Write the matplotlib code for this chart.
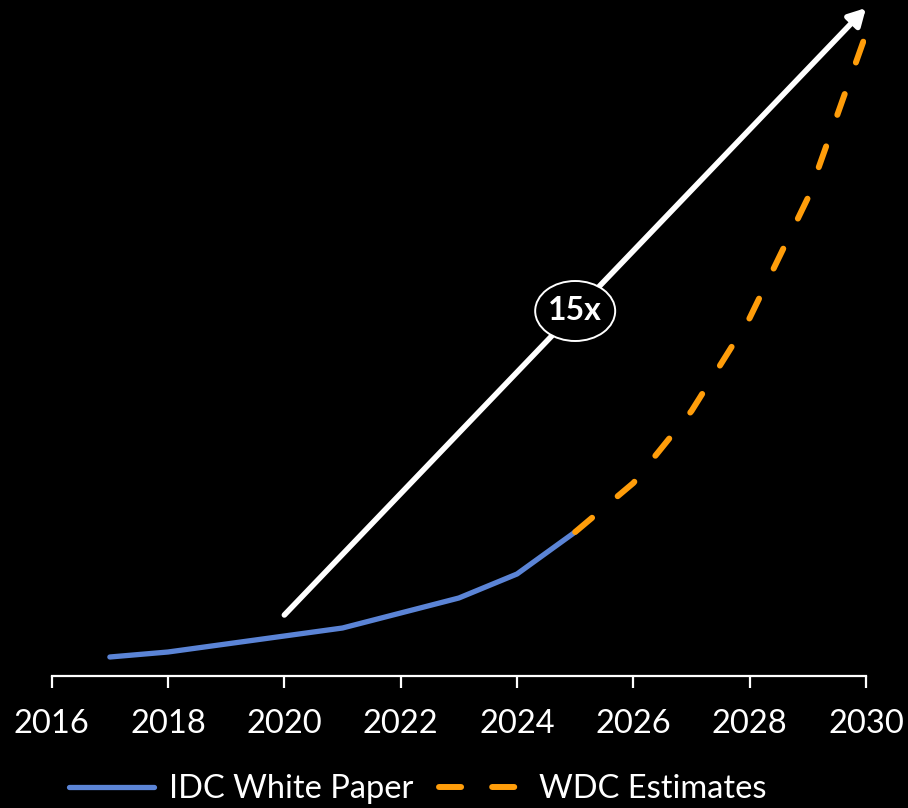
import matplotlib
matplotlib.use("Agg")
import matplotlib.pyplot as plt
from matplotlib.patches import Ellipse
from matplotlib.lines import Line2D

plt.rcParams['font.family'] = ['Lato', 'DejaVu Sans']

# Data volume index (relative units)
idc_years = [2017, 2018, 2019, 2020, 2021, 2022, 2023, 2024, 2025]
idc_values = [19, 24, 32, 40, 48, 63, 78, 102, 144]

wdc_years = [2025, 2026, 2027, 2028, 2029, 2030]
wdc_values = [144, 193, 265, 358, 478, 642]

tick_years = [2016, 2018, 2020, 2022, 2024, 2026, 2028, 2030]
tick_labels = [str(y) for y in tick_years]

arrow_start = (2020.0, 61)
arrow_end = (2030.0, 668)
growth_label = "15x"
label_pos = (2025.0, 365)

BLUE = "#5B84D6"
ORANGE = "#FF9D0A"

fig = plt.figure(figsize=(9.08, 8.08), dpi=100, facecolor="black")
ax = fig.add_axes([51.7 / 908, 1 - 676 / 808, (866 - 51.7) / 908, 670 / 808])
ax.set_facecolor("black")
ax.set_xlim(2016, 2030)
ax.set_ylim(0, 670)

for s in ("top", "left", "right"):
    ax.spines[s].set_visible(False)
ax.spines["bottom"].set_color("white")
ax.spines["bottom"].set_linewidth(1.6)
ax.set_yticks([])
ax.set_xticks(tick_years)
ax.set_xticklabels(tick_labels)
ax.tick_params(axis="x", colors="white", direction="out", length=8.6, width=1.6,
               labelsize=23.5, pad=15)

idc_line, = ax.plot(idc_years, idc_values, color=BLUE, lw=3.8,
                    solid_capstyle="round", solid_joinstyle="round", zorder=3)
wdc_line, = ax.plot(wdc_years, wdc_values, color=ORANGE, lw=4.3,
                    linestyle=(0, (3.7, 5.6)), dash_capstyle="round", zorder=4)

ax.annotate("", xy=arrow_end, xytext=arrow_start,
            arrowprops=dict(arrowstyle="-|>,head_length=1.0,head_width=0.55",
                            color="white", lw=4, shrinkA=0, shrinkB=0),
            annotation_clip=False, zorder=2)

ax.add_patch(Ellipse(label_pos, width=80 / 58.16, height=60, facecolor="black",
                     edgecolor="white", lw=1.4, zorder=5))
ax.text(label_pos[0], label_pos[1], growth_label, color="white", fontsize=23,
        fontweight="bold", ha="center", va="center", zorder=6)

handles = [Line2D([], [], color=BLUE, lw=3.8, solid_capstyle="round"),
           Line2D([], [], color=ORANGE, lw=4.3, linestyle=(0, (3.7, 5.2)),
                  dash_capstyle="round")]
leg = fig.legend(handles, ["IDC White Paper", "WDC Estimates"], loc="center",
                 bbox_to_anchor=(0.46, 1 - 789 / 808), ncol=2, frameon=False,
                 fontsize=23.5, handlelength=2.6, handletextpad=0.45,
                 columnspacing=0.8, labelcolor="white")

fig.savefig("out.png", dpi=100, facecolor="black")
